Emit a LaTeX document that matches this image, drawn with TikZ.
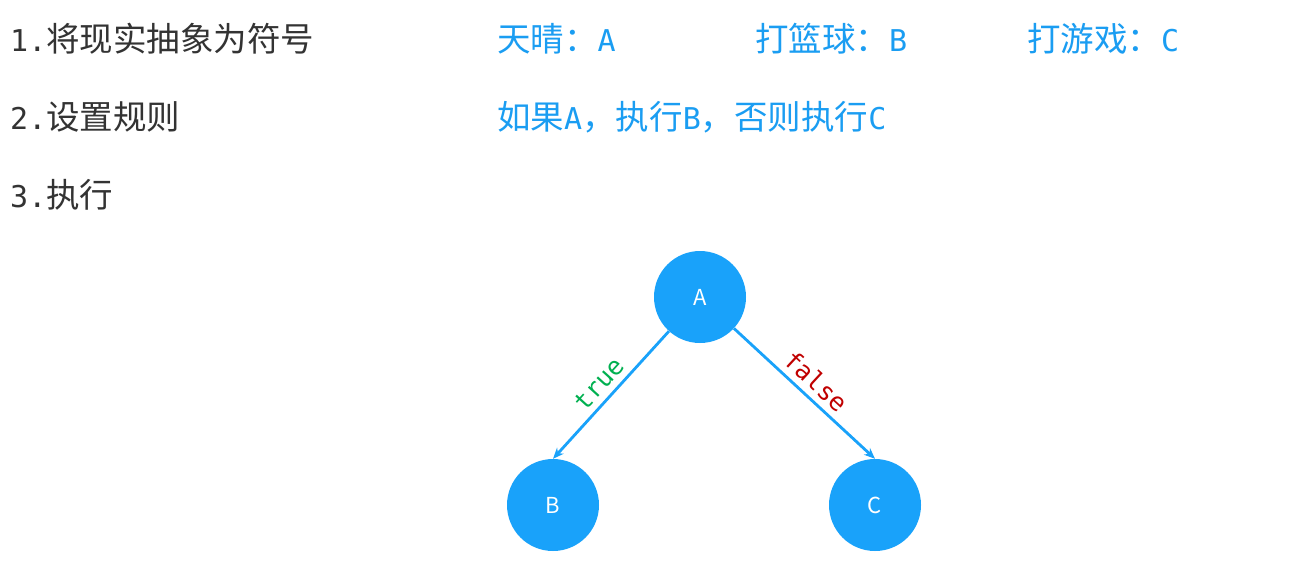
\documentclass[tikz,border=0pt]{standalone}
\usepackage{fontspec}
\setmainfont{Noto Sans CJK SC}
\newfontfamily\cjkf{Noto Sans CJK SC}
\newfontfamily\monof{DejaVu Sans Mono}
\usetikzlibrary{arrows.meta}
\definecolor{circblue}{HTML}{19A2FA}
\definecolor{txtblue}{HTML}{1A9DF2}
\definecolor{txtgray}{HTML}{333333}
\definecolor{truegreen}{HTML}{00B050}
\definecolor{falsered}{HTML}{C00000}
\tikzset{
  stepline/.style={anchor=west, inner sep=0pt, text=txtgray, font=\fontsize{33.5}{38}\selectfont\cjkf},
  bluetxt/.style={anchor=west, inner sep=0pt, text=txtblue, font=\fontsize{33.5}{38}\selectfont\cjkf},
  ball/.style={circle, fill=circblue, minimum size=92pt, inner sep=0pt, text=white, font=\fontsize{22}{26}\selectfont\cjkf},
  conn/.style={draw=circblue, line width=2.8pt, -{Stealth[length=11pt,width=9pt]}},
  elabel/.style={midway, sloped, above, inner sep=6pt, font=\fontsize{25}{29}\selectfont\monof}
}
\newcommand{\mn}[1]{{\fontsize{30}{34}\selectfont\monof #1}}
\begin{document}
\begin{tikzpicture}[x=1pt,y=-1pt]
\path[use as bounding box, fill=white] (0,0) rectangle (1303,582);
% left steps
\node[stepline] (s1) at (10,39) {\mn{1.}将现实抽象为符号};
\node[stepline] (s2) at (10,117) {\mn{2.}设置规则};
\node[stepline] (s3) at (10,195) {\mn{3.}执行};
% right blue text
\node[bluetxt] (t1) at (497,39) {天晴：\mn{A}};
\node[bluetxt] (t2) at (755,39) {打篮球：\mn{B}};
\node[bluetxt] (t3) at (1027,39) {打游戏：\mn{C}};
\node[bluetxt] (t4) at (497,117) {如果\mn{A}，执行\mn{B}，否则执行\mn{C}};
% graph
\node[ball] (A) at (700,297) {A};
\node[ball] (B) at (553,505) {B};
\node[ball] (C) at (875,505) {C};
\draw[conn] (A) -- (B.north) node[elabel, text=truegreen] (lt) {true};
\draw[conn] (A) -- (C.north) node[elabel, text=falsered] (lf) {false};
\end{tikzpicture}
\end{document}
